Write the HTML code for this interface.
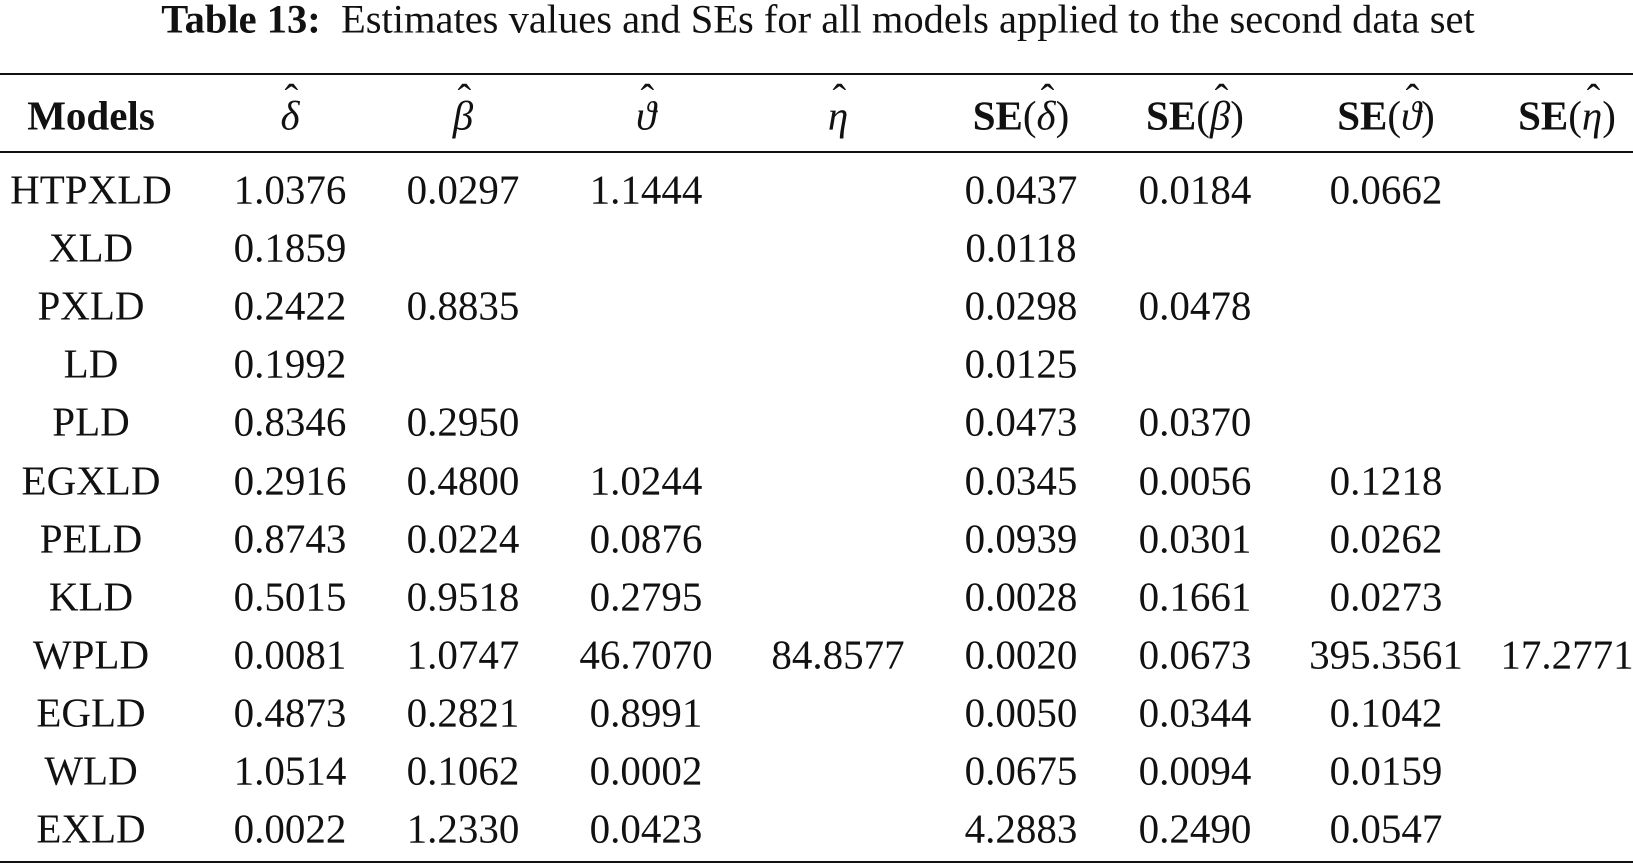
<!DOCTYPE html>
<html><head><meta charset="utf-8"><style>
body{margin:0;width:1633px;height:868px;background:#fff;position:relative;overflow:hidden;font-family:"Liberation Serif",serif;color:#111}
.c{position:absolute;transform:translate(-50%,-50%);white-space:nowrap;font-size:41px;line-height:1}
.r{position:absolute;left:0;width:1633px;height:2px;background:#111}
.t{position:absolute;left:818px;top:19px;transform:translate(-50%,-50%);font-size:40.5px;white-space:nowrap}
i{font-style:italic}
.h{position:relative;display:inline-block;font-style:italic}
.h::after{content:"ˆ";position:absolute;left:50%;top:-0.42em;transform:translateX(-40%);font-style:normal;font-weight:normal}
</style></head><body>
<div class="t"><b>Table 13:</b>&nbsp; Estimates values and SEs for all models applied to the second data set</div>
<div class="r" style="top:73px"></div>
<div class="r" style="top:151px"></div>
<div class="r" style="top:861px"></div>
<div id="tb"></div>
<script>
const cx=[91,290,463,646,838,1021,1195,1386,1567];
const H=s=>`<span class="h">${s}</span>`;
const hdr=['<b>Models</b>',H('δ'),H('β'),H('ϑ'),H('η'),'<b>SE</b>('+H('δ')+')','<b>SE</b>('+H('β')+')','<b>SE</b>('+H('ϑ')+')','<b>SE</b>('+H('η')+')'];
const rows=[
['HTPXLD','1.0376','0.0297','1.1444','','0.0437','0.0184','0.0662',''],
['XLD','0.1859','','','','0.0118','','',''],
['PXLD','0.2422','0.8835','','','0.0298','0.0478','',''],
['LD','0.1992','','','','0.0125','','',''],
['PLD','0.8346','0.2950','','','0.0473','0.0370','',''],
['EGXLD','0.2916','0.4800','1.0244','','0.0345','0.0056','0.1218',''],
['PELD','0.8743','0.0224','0.0876','','0.0939','0.0301','0.0262',''],
['KLD','0.5015','0.9518','0.2795','','0.0028','0.1661','0.0273',''],
['WPLD','0.0081','1.0747','46.7070','84.8577','0.0020','0.0673','395.3561','17.2771'],
['EGLD','0.4873','0.2821','0.8991','','0.0050','0.0344','0.1042',''],
['WLD','1.0514','0.1062','0.0002','','0.0675','0.0094','0.0159',''],
['EXLD','0.0022','1.2330','0.0423','','4.2883','0.2490','0.0547','']];
let h='';
hdr.forEach((t,j)=>h+=`<div class="c" style="left:${cx[j]}px;top:116px">${t}</div>`);
rows.forEach((r,i)=>r.forEach((t,j)=>{if(t)h+=`<div class="c" style="left:${cx[j]}px;top:${190+i*58.1}px">${t}</div>`}));
document.getElementById('tb').innerHTML=h;
</script>
</body></html>
